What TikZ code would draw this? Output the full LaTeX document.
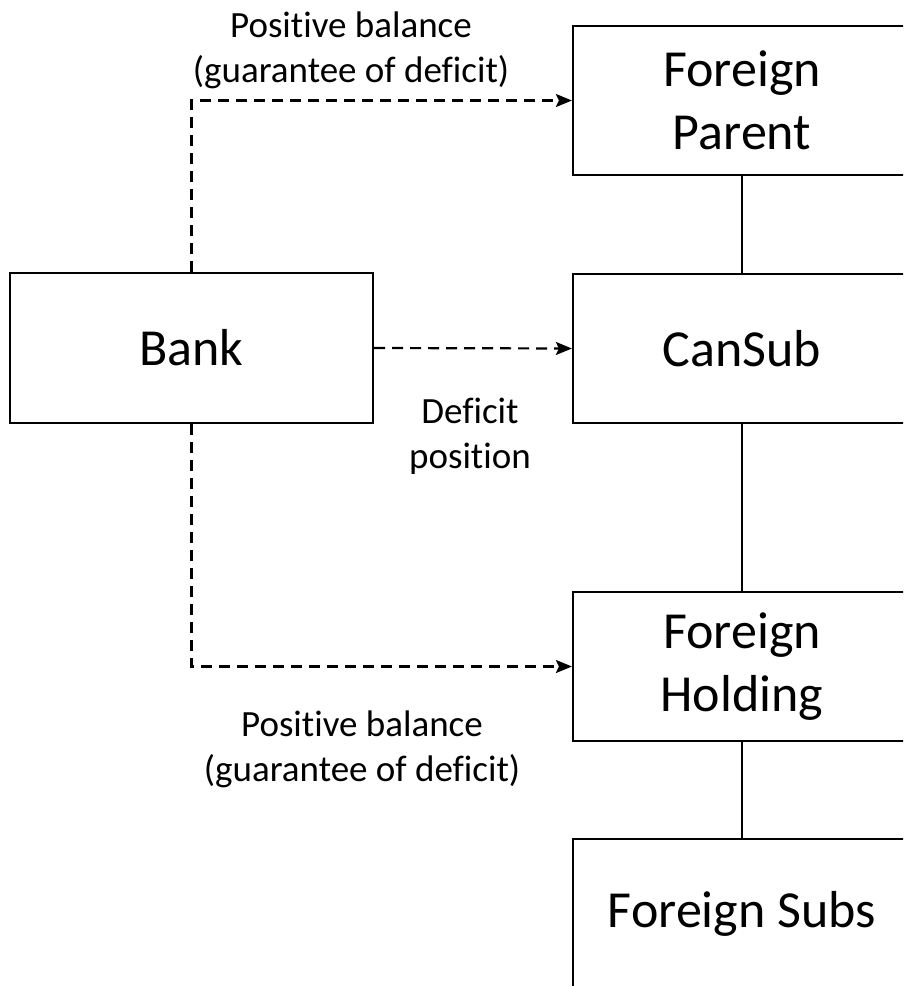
\documentclass[tikz,border=0pt]{standalone}
\usepackage{fontspec}
\setmainfont{Carlito}[Ligatures=NoCommon]
\usetikzlibrary{arrows.meta}
\begin{document}
\begin{tikzpicture}[x=1pt,y=-1pt,
  entity/.style={draw=black,line width=2.2pt,minimum width=338pt,minimum height=149pt,
    align=center,inner sep=0pt,font=\fontsize{52pt}{63pt}\selectfont},
  bankbox/.style={entity,minimum width=363pt,minimum height=150pt},
  link/.style={draw=black,line width=1.5pt},
  flow/.style={draw=black,line width=2.2pt,dash pattern=on 11pt off 7pt,
    -{Stealth[length=16pt,width=13pt,inset=3pt]}},
  tag/.style={align=center,inner sep=0pt,font=\fontsize{37pt}{45pt}\selectfont}]
  \clip (0,0) rectangle (903,986);
  \fill[white] (0,0) rectangle (903,986);

  % entities
  \node[entity] (fp) at (742,100.5) {Foreign\\Parent};
  \node[entity] (cs) at (742,348.5) {CanSub};
  \node[entity] (fh) at (742,666.5) {Foreign\\Holding};
  \node[entity] (fs) at (742,913.5) {Foreign Subs};
  \node[bankbox] (bank) at (191.5,348) {Bank};

  % ownership chain
  \draw[link] (fp.south) -- (cs.north);
  \draw[link] (cs.south) -- (fh.north);
  \draw[link] (fh.south) -- (fs.north);

  % bank positions
  \draw[flow] (bank.north) |- (fp.west);
  \draw[flow] (bank.east) -- (cs.west);
  \draw[flow] (bank.south) |- (fh.west);

  % labels
  \node[tag] (ltop) at (351,50) {Positive balance\\(guarantee of deficit)};
  \node[tag] (lmid) at (470,436) {Deficit\\position};
  \node[tag] (lbot) at (362,749) {Positive balance\\(guarantee of deficit)};
\end{tikzpicture}
\end{document}
